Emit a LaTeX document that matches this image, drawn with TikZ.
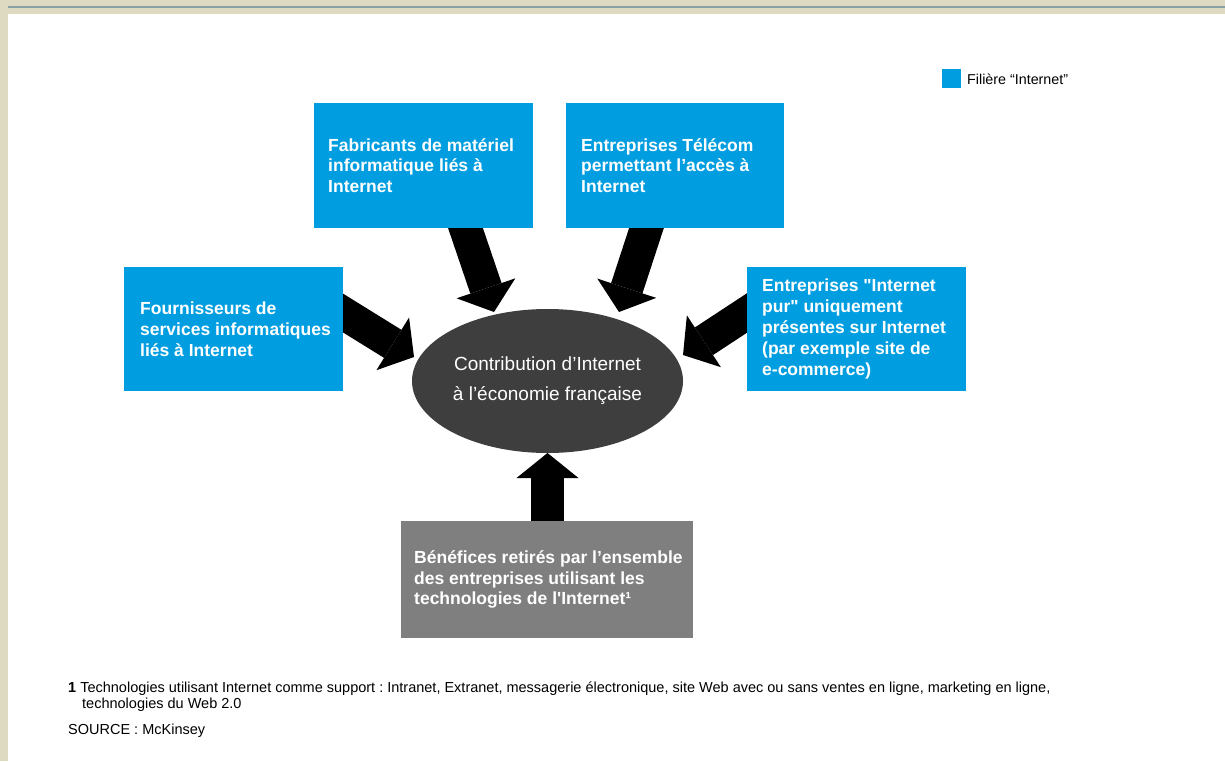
\documentclass[tikz,border=0pt]{standalone}
\usepackage{fontspec}
\setmainfont{Liberation Sans}
% plain family without TeX quote mapping, so ' stays straight
\newfontfamily\arial{Liberation Sans}
\usetikzlibrary{arrows.meta,shapes.geometric,calc,backgrounds}

\definecolor{inetblue}{RGB}{0,158,224}
\definecolor{bengray}{RGB}{127,127,127}
\definecolor{hubgray}{RGB}{62,62,62}
\definecolor{framebeige}{RGB}{221,218,193}
\definecolor{frameline}{RGB}{138,158,166}

\tikzset{
  bluebox/.style={rectangle, fill=inetblue, draw=none, inner sep=0pt, outer sep=0pt},
  graybox/.style={rectangle, fill=bengray, draw=none, inner sep=0pt, outer sep=0pt},
  boxtext/.style={anchor=west, align=left, inner sep=0pt, text=white,
    font=\arial\fontsize{17.5}{20.8}\selectfont\bfseries},
  hub/.style={ellipse, fill=hubgray, draw=none, inner sep=0pt, outer sep=0pt,
    minimum width=271pt, minimum height=144pt, align=center, text=white,
    font=\arial\fontsize{19}{30}\selectfont},
  fatarrow/.style={draw=black, line width=33pt,
    -{Triangle[length=25pt,width=62pt,line width=0pt]}},
  note/.style={inner sep=0pt, font=\arial\fontsize{14.5}{16}\selectfont\frenchspacing, text=black},
  legsq/.style={rectangle, fill=inetblue, draw=none, minimum size=19pt, inner sep=0pt},
}

\begin{document}
\begin{tikzpicture}[x=1pt,y=-1pt]
\useasboundingbox (0,0) rectangle (1225,761);

% page and window frame
\begin{pgfonlayer}{background}
  \fill[white] (0,0) rectangle (1225,761);
  \fill[framebeige] (0,0) rectangle (1225,14);
  \fill[framebeige] (0,0) rectangle (7.5,761);
  \fill[frameline] (8,6) rectangle (1225,7.7);
\end{pgfonlayer}

% legend
\node[legsq] (leg) at (951.5,78.5) {};
\node[note, anchor=west, font=\arial\fontsize{14.3}{16}\selectfont] (legT) at (967,79) {Filière “Internet”};

% contributing sectors
\node[bluebox, minimum width=219pt, minimum height=125pt] (fab) at (423.5,165.5) {};
\node[boxtext] (fabT) at ([xshift=14pt]fab.west) {Fabricants de matériel\\informatique liés à\\Internet};

\node[bluebox, minimum width=218pt, minimum height=125pt] (tel) at (675,165.5) {};
\node[boxtext] (telT) at ([xshift=15pt]tel.west) {Entreprises Télécom\\permettant l’accès à\\Internet};

\node[bluebox, minimum width=219pt, minimum height=124pt] (four) at (233.5,329) {};
\node[boxtext] (fourT) at ([xshift=16pt]four.west) {Fournisseurs de\\services informatiques\\liés à Internet};

\node[bluebox, minimum width=219pt, minimum height=124pt] (pur) at (856.5,329) {};
\node[boxtext] (purT) at ([xshift=15pt]pur.west) {Entreprises "Internet\\pur" uniquement\\présentes sur Internet\\(par exemple site de\\e-commerce)};

\node[graybox, minimum width=292pt, minimum height=117pt] (ben) at (547,579.5) {};
\node[boxtext] (benT) at ([xshift=13pt]ben.west) {Bénéfices retirés par l’ensemble\\des entreprises utilisant les\\technologies de l'Internet¹};

% central ellipse
\node[hub] (ell) at (547.5,381) {Contribution d’Internet\\à l’économie française};

% block arrows, tucked under the boxes
\begin{pgfonlayer}{background}
  \draw[fatarrow] ($(fab.south)+(35.5,-19)$) -- ($(ell.center)+(-53.5,-69)$);
  \draw[fatarrow] ($(tel.south)+(-22.3,-19)$) -- ($(ell.center)+(71.5,-69)$);
  \draw[fatarrow] ($(four.east)+(-17,-26.5)$) -- ($(ell.center)+(-133.5,-24)$);
  \draw[fatarrow] ($(pur.west)+(16.7,-27)$) -- ($(ell.center)+(135.5,-26)$);
  \draw[fatarrow] ($(ben.north)+(0.5,9)$) -- (ell.south);
\end{pgfonlayer}

% footnote and source
\node[note, anchor=base west] (fn1) at (68,692) {\textbf{1} Technologies utilisant Internet comme support : Intranet, Extranet, messagerie électronique, site Web avec ou sans ventes en ligne, marketing en ligne,};
\node[note, anchor=base west] (fn2) at (82,708) {technologies du Web 2.0};
\node[note, anchor=base west] (src) at (68,734) {SOURCE : McKinsey};
\end{tikzpicture}
\end{document}
